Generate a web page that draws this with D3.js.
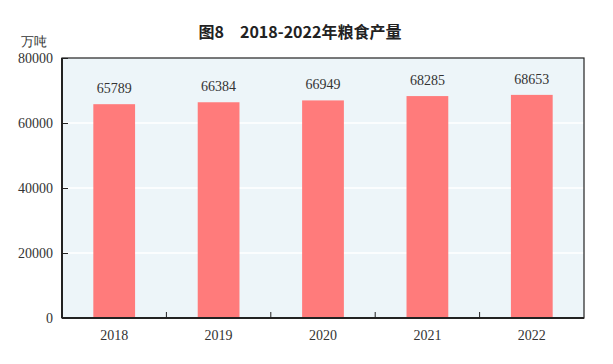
<!DOCTYPE html>
<html>
<head>
<meta charset="utf-8">
<script src="https://cdn.jsdelivr.net/npm/d3@7"></script>
<style>
	body { margin: 0; background: #fff; }
	text { font-family: "Liberation Serif", "DejaVu Serif", serif; }
	.title { font-family: "Noto Sans CJK SC", sans-serif; font-weight: bold; }
</style>
</head>
<body>
<svg id="chart" width="613" height="364"></svg>
<script>
const YEARS = ['2018', '2019', '2020', '2021', '2022'];
const OUTPUT = [65789, 66384, 66949, 68285, 68653];
const Y_TICKS = [0, 20000, 40000, 60000, 80000];

const svg = d3.select('#chart');
const plotLeft = 62, plotRight = 584, plotTop = 58, plotBottom = 318;

const x = d3.scaleBand().domain(YEARS).range([plotLeft, plotRight]).paddingInner(0.6).paddingOuter(0.3);
const y = d3.scaleLinear().domain([0, 80000]).range([plotBottom, plotTop]);

// background
svg.append('rect')
	.attr('x', plotLeft).attr('y', plotTop)
	.attr('width', plotRight - plotLeft).attr('height', plotBottom - plotTop)
	.attr('fill', '#edf5f9');

// grid lines
svg.append('g')
	.selectAll('line')
	.data(Y_TICKS.slice(1, -1))
	.enter().append('line')
	.attr('x1', plotLeft).attr('x2', plotRight)
	.attr('y1', d => y(d)).attr('y2', d => y(d))
	.attr('stroke', '#fff').attr('stroke-width', 1.5);

// bars
svg.append('g')
	.selectAll('rect')
	.data(OUTPUT)
	.enter().append('rect')
	.attr('x', (d, i) => x(YEARS[i]))
	.attr('y', d => y(d))
	.attr('width', x.bandwidth())
	.attr('height', d => plotBottom - y(d))
	.attr('fill', '#ff7b7b');

// value labels
svg.append('g')
	.selectAll('text')
	.data(OUTPUT)
	.enter().append('text')
	.text(d => d)
	.attr('x', (d, i) => x(YEARS[i]) + x.bandwidth() / 2)
	.attr('y', d => y(d) - 11)
	.attr('text-anchor', 'middle')
	.attr('font-size', 14)
	.attr('fill', '#333');

// frame
svg.append('rect')
	.attr('x', plotLeft).attr('y', plotTop)
	.attr('width', plotRight - plotLeft).attr('height', plotBottom - plotTop)
	.attr('fill', 'none').attr('stroke', '#222').attr('stroke-width', 1.2);
svg.append('line')
	.attr('x1', plotLeft).attr('x2', plotLeft).attr('y1', plotTop).attr('y2', plotBottom)
	.attr('stroke', '#222').attr('stroke-width', 2);
svg.append('line')
	.attr('x1', plotLeft).attr('x2', plotRight).attr('y1', plotBottom).attr('y2', plotBottom)
	.attr('stroke', '#222').attr('stroke-width', 2);

// y axis
const yAxis = svg.append('g')
	.attr('transform', `translate(${plotLeft},0)`)
	.call(d3.axisRight(y).tickValues(Y_TICKS).tickSize(6).tickFormat(d => ''));
yAxis.select('.domain').remove();
yAxis.selectAll('line').attr('stroke', '#222');
svg.append('g')
	.selectAll('text')
	.data(Y_TICKS)
	.enter().append('text')
	.text(d => d)
	.attr('x', plotLeft - 9)
	.attr('y', d => y(d) + 5)
	.attr('text-anchor', 'end')
	.attr('font-size', 14)
	.attr('fill', '#333');

// x axis: ticks between bands
const bounds = d3.range(1, YEARS.length).map(i => plotLeft + i * (plotRight - plotLeft) / YEARS.length);
svg.append('g')
	.selectAll('line')
	.data(bounds)
	.enter().append('line')
	.attr('x1', d => d).attr('x2', d => d)
	.attr('y1', plotBottom).attr('y2', plotBottom - 6)
	.attr('stroke', '#222');
svg.append('g')
	.selectAll('text')
	.data(YEARS)
	.enter().append('text')
	.text(d => d)
	.attr('x', d => x(d) + x.bandwidth() / 2)
	.attr('y', plotBottom + 22)
	.attr('text-anchor', 'middle')
	.attr('font-size', 14)
	.attr('fill', '#333');

// title and unit
svg.append('text')
	.classed('title', true)
	.text('图8　2018-2022年粮食产量')
	.attr('x', 300).attr('y', 38)
	.attr('text-anchor', 'middle')
	.attr('font-size', 16)
	.attr('fill', '#222');
svg.append('text')
	.text('万吨')
	.attr('x', 34).attr('y', 46)
	.attr('text-anchor', 'middle')
	.attr('font-size', 13)
	.attr('font-family', '"Noto Sans CJK SC", serif')
	.attr('fill', '#333');
</script>
</body>
</html>
